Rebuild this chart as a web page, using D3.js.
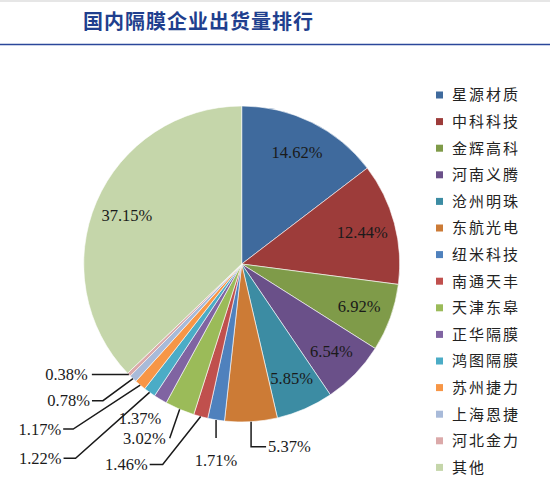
<!DOCTYPE html>
<html>
<head>
<meta charset="utf-8">
<script src="https://cdn.jsdelivr.net/npm/d3@7"></script>
<style>
  html, body { margin: 0; padding: 0; background: #fff; }
  svg { display: block; }
</style>
</head>
<body>
<svg id="chart" width="550" height="485"></svg>
<script>
// 国内隔膜企业出货量排行 - pie chart

const companies = ["星源材质", "中科科技", "金辉高科", "河南义腾", "沧州明珠", "东航光电", "纽米科技",
  "南通天丰", "天津东皋", "正华隔膜", "鸿图隔膜", "苏州捷力", "上海恩捷", "河北金力", "其他"];
const shares = [14.62, 12.44, 6.92, 6.54, 5.85, 5.37, 1.71, 1.46, 3.02, 1.37, 1.22, 1.17, 0.78, 0.38, 37.15];
const colors = ["#3f6a9d", "#9d3c3a", "#7f9b49", "#6a5089", "#3c8ca3", "#cc7b36", "#4f81bd",
  "#c0504d", "#9bbb59", "#8064a2", "#4bacc6", "#f79646", "#a8bad9", "#dba9a9", "#c5d6aa"];

// label placement: "in" = inside slice, otherwise leader offsets from the slice edge
// elbow = [dx, dy] from edge point, tail = horizontal run after elbow
const labelLayout = [
  { type: "in" }, { type: "in" }, { type: "in" }, { type: "in" }, { type: "in" },
  { elbow: [0, 25], tail: 15 },
  { elbow: [0, 18], tail: 0, below: true },
  { elbow: [-38, 48], tail: -13 },
  { elbow: [-10, 29], tail: 0 },
  { elbow: [3, 19], tail: 0, noLine: true },
  { elbow: [-74, 66], tail: -12 },
  { elbow: [-67, 44], tail: -10 },
  { elbow: [-30, 22], tail: -11 },
  { elbow: [-37, 0], tail: 0 },
  { type: "in" }
];

const svg = d3.select("#chart");
const W = 550;

// header
svg.append("line").attr("x1", 0).attr("x2", W).attr("y1", 1).attr("y2", 1)
  .attr("stroke", "#e6e6e6").attr("stroke-width", 2);
svg.append("text")
  .attr("x", 83).attr("y", 29)
  .attr("font-family", "Noto Sans CJK SC, sans-serif")
  .attr("font-size", 20).attr("font-weight", "bold")
  .attr("letter-spacing", 1)
  .attr("fill", "#1f3f8e")
  .text("国内隔膜企业出货量排行");
svg.append("line").attr("x1", 0).attr("x2", W).attr("y1", 44.5).attr("y2", 44.5)
  .attr("stroke", "#2b479a").attr("stroke-width", 1.5);

// pie
const cx = 241.7, cy = 264, R = 158;
const pie = d3.pie().sort(null).value(d => d);
const arcs = pie(shares);
const arc = d3.arc().innerRadius(0).outerRadius(R);
const labelArc = d3.arc().innerRadius(R * 0.79).outerRadius(R * 0.79);

const g = svg.append("g").attr("transform", `translate(${cx},${cy})`);
g.selectAll("path")
  .data(arcs)
  .join("path")
  .attr("d", arc)
  .attr("fill", (d, i) => colors[i])
  .attr("stroke", "#fff")
  .attr("stroke-width", 0.6);

const fmt = d => d.toFixed(2) + "%";
const numFont = "Liberation Serif, Times New Roman, serif";

arcs.forEach((d, i) => {
  const lay = labelLayout[i];
  if (lay.type === "in") {
    const [x, y] = labelArc.centroid(d);
    g.append("text")
      .attr("x", x).attr("y", y)
      .attr("text-anchor", "middle").attr("dy", "0.35em")
      .attr("font-family", numFont).attr("font-size", 16.5)
      .attr("fill", "#1a1a1a")
      .text(fmt(shares[i]));
    return;
  }
  const mid = (d.startAngle + d.endAngle) / 2;
  const ex = R * Math.sin(mid), ey = -R * Math.cos(mid);
  const bx = ex + lay.elbow[0], by = ey + lay.elbow[1];
  const tx = bx + lay.tail;
  if (!lay.noLine) {
    g.append("polyline")
      .attr("points", [[ex, ey], [bx, by], [tx, by]].map(p => p.join(",")).join(" "))
      .attr("fill", "none").attr("stroke", "#1a1a1a").attr("stroke-width", 1.5);
  }
  let anchor, lx, ly = by;
  if (lay.below) { anchor = "middle"; lx = tx; ly = by + 22; }
  else if (lay.tail > 0) { anchor = "start"; lx = tx + 2; }
  else { anchor = "end"; lx = tx - (lay.tail === 0 && !lay.noLine ? 4 : 2); }
  g.append("text")
    .attr("x", lx).attr("y", ly)
    .attr("text-anchor", anchor).attr("dy", "0.35em")
    .attr("font-family", numFont).attr("font-size", 16.5)
    .attr("fill", "#1a1a1a")
    .text(fmt(shares[i]));
});

// legend
const legend = svg.append("g").attr("transform", "translate(436,95)");
const row = legend.selectAll("g")
  .data(companies)
  .join("g")
  .attr("transform", (d, i) => `translate(0,${i * 26.6})`);
row.append("rect")
  .attr("x", 0).attr("y", -3.5).attr("width", 7).attr("height", 7)
  .attr("fill", (d, i) => colors[i]);
row.append("text")
  .attr("x", 16).attr("dy", "0.36em")
  .attr("font-family", "Noto Sans CJK SC, sans-serif")
  .attr("font-size", 15).attr("letter-spacing", 2)
  .attr("fill", "#222")
  .text(d => d);
</script>
</body>
</html>
